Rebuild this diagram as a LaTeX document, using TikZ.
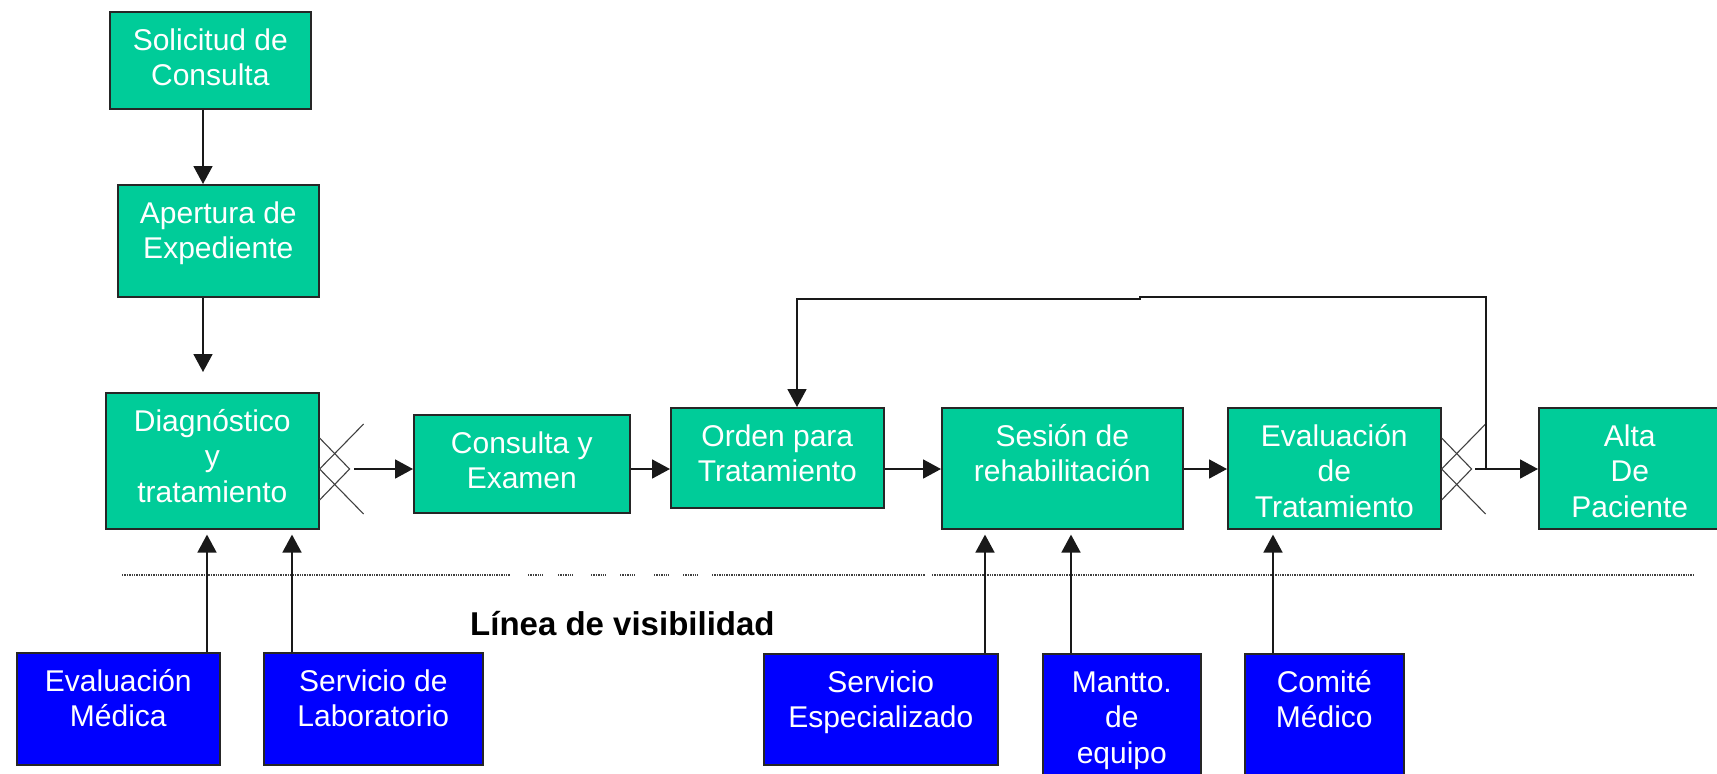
\documentclass[tikz,border=0pt]{standalone}
\usepackage{fontspec}
\setmainfont{Liberation Sans}
\usetikzlibrary{arrows.meta}
\definecolor{boxgreen}{RGB}{0,204,153}
\definecolor{boxblue}{RGB}{0,0,255}
\newcommand\bxt[3]{\parbox[c][#2pt][t]{#1pt}{\centering\fontsize{30}{35.5}\selectfont\rule{0pt}{38.5pt}#3}}
\begin{document}
\begin{tikzpicture}[x=1pt,y=-1pt,
  gbox/.style={draw=black!85, line width=1.6pt, fill=boxgreen, inner sep=0pt, text=white, anchor=north west},
  bbox/.style={gbox, fill=boxblue},
  arr/.style={draw=black!90, line width=1.8pt, -{Triangle[length=18pt,width=19pt]}},
  xmark/.style={draw=black!75, line width=1.1pt},
  dotline/.style={draw=black!75, line width=1.3pt, dash pattern=on 1.3pt off 1.1pt}]
\useasboundingbox (0,0) rectangle (1717,774);
\clip (0,0) rectangle (1717,774);

% line of visibility
\draw[dotline] (122,575) -- (510,575);
\foreach \a in {528,558,591,620,654,683} \draw[dotline] (\a,575) -- ++(15,0);
\draw[dotline] (712,575) -- (925,575);
\draw[dotline] (932,575) -- (1694,575);
\node[anchor=base west, inner sep=0pt, font=\bfseries\fontsize{33}{38}\selectfont] (vis) at (470,635) {Línea de visibilidad};

% green boxes
\node[gbox] (sol) at (109,11) {\bxt{201}{97}{Solicitud de\\Consulta}};
\node[gbox] (ape) at (117,184) {\bxt{201}{112}{Apertura de\\Expediente}};
\node[gbox] (diag) at (105,392) {\bxt{213}{136}{Diagnóstico\\y\\tratamiento}};
\node[gbox] (con) at (413,414) {\bxt{216}{98}{Consulta y\\Examen}};
\node[gbox] (ord) at (670,407) {\bxt{213}{100}{Orden para\\Tratamiento}};
\node[gbox] (ses) at (941,407) {\bxt{241}{121}{Sesión de\\rehabilitación}};
\node[gbox] (eva) at (1227,407) {\bxt{213}{121}{Evaluación\\de\\Tratamiento}};
\node[gbox] (alta) at (1538,407) {\bxt{182}{121}{Alta\\De\\Paciente}};

% blue boxes
\node[bbox] (evm) at (16,652) {\bxt{203}{112}{Evaluación\\Médica}};
\node[bbox] (lab) at (263,652) {\bxt{219}{112}{Servicio de\\Laboratorio}};
\node[bbox] (sesp) at (763,653) {\bxt{234}{111}{Servicio\\Especializado}};
\node[bbox] (man) at (1042,653) {\bxt{158}{150}{Mantto.\\de\\equipo}};
\node[bbox] (com) at (1244,653) {\bxt{159}{150}{Comité\\Médico}};

% row level
\coordinate (rowy) at (0,469);
\coordinate (m1) at (diag.east |- rowy);
\coordinate (m2) at (eva.east |- rowy);
\foreach \m in {m1,m2} {
  \draw[xmark] (\m) ++(44,-45) -- (\m) -- ++(44,45);
  \draw[xmark] (\m) ++(0,-31) -- ++(30,31) -- ++(-30,31);
}

% vertical flow
\coordinate (xa) at (203,0);
\draw[arr] (sol.south -| xa) -- (ape.north -| xa);
\draw[arr, shorten >=20pt] (ape.south -| xa) -- (diag.north -| xa);

% main row
\coordinate (d1) at (354,469);
\draw[arr] (d1) -- (con.west |- rowy);
\draw[arr] (con.east |- rowy) -- (ord.west |- rowy);
\draw[arr] (ord.east |- rowy) -- (ses.west |- rowy);
\draw[arr] (ses.east |- rowy) -- (eva.west |- rowy);
\coordinate (e1) at (1475,469);
\draw[arr] (e1) -- (alta.west |- rowy);

% feedback loop
\coordinate (fbx) at (1486,469);
\coordinate (xo) at (797,0);
\draw[arr] (fbx) -- (1486,297) -- (1140,297) -- (1140,299) -- (797,299) -- (ord.north -| xo);

% support arrows
\foreach \x/\src/\dst in {207/evm/diag, 292/lab/diag, 985/sesp/ses, 1071/man/ses, 1273/com/eva} {
  \coordinate (ux) at (\x,0);
  \draw[arr, shorten >=5pt] (\src.north -| ux) -- (\dst.south -| ux);
}
\end{tikzpicture}
\end{document}
